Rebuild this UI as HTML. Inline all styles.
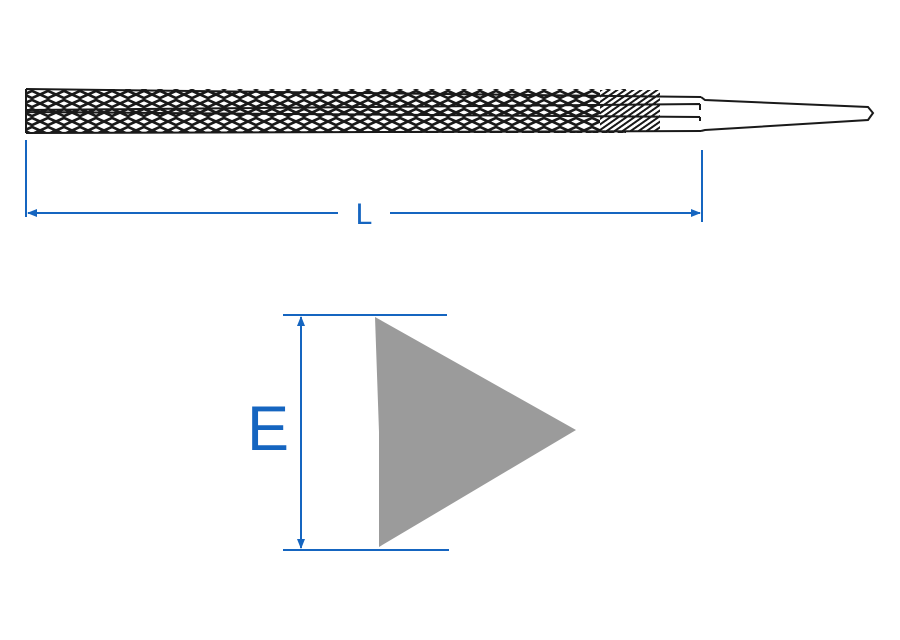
<!DOCTYPE html>
<html><head><meta charset="utf-8"><style>
html,body{margin:0;padding:0;background:#fff;}
svg{display:block;}
</style></head><body>
<svg width="900" height="640" viewBox="0 0 900 640" xmlns="http://www.w3.org/2000/svg">
<defs>
<pattern id="hatch" width="16" height="9" patternUnits="userSpaceOnUse">
<rect width="16" height="9" fill="#fff"/>
<path d="M-2,0 L18,9 M-2,-9 L18,0 M-2,9 L18,18" stroke="#1a1a1a" stroke-width="2.6"/>
<path d="M-2,9 L18,0 M-2,18 L18,9 M-2,0 L18,-9" stroke="#1a1a1a" stroke-width="2.6"/>
</pattern>
<pattern id="diag" width="8" height="20" patternUnits="userSpaceOnUse" patternTransform="skewX(-55)">
<rect width="8" height="20" fill="#fff"/>
<rect width="3.5" height="20" fill="#1a1a1a"/>
</pattern>
<marker id="ar" markerWidth="10" markerHeight="8" refX="9" refY="4" orient="auto" markerUnits="userSpaceOnUse">
<path d="M0,0 L10,4 L0,8 z" fill="#1565c0"/>
</marker>
<marker id="al" markerWidth="10" markerHeight="8" refX="1" refY="4" orient="auto" markerUnits="userSpaceOnUse">
<path d="M10,0 L0,4 L10,8 z" fill="#1565c0"/>
</marker>
</defs>
<rect x="26" y="89" width="600" height="44" fill="url(#hatch)"/>
<rect x="600" y="90" width="60" height="42" fill="url(#diag)"/>
<path d="M660,90 L701,97 L701,109 L660,111 Z M660,132 L701,131 L701,117 L660,113 Z" fill="#fff"/>
<path d="M26,89 L701,97 M26,133 L701,131 M26,89 L26,133 M26,112 L700,117 M26,110 L700,104 M700,104 L700,110 M700,117 L700,121" stroke="#1a1a1a" stroke-width="2" fill="none"/>
<path d="M701,97 L705,100 L868,107 L873,113 L868,120 L705,130 L701,131" stroke="#1a1a1a" stroke-width="2" fill="none"/>
<g stroke="#1565c0" stroke-width="2" fill="none">
<line x1="26" y1="140" x2="26" y2="217"/>
<line x1="702" y1="150" x2="702" y2="222"/>
<line x1="28" y1="213" x2="338" y2="213" marker-start="url(#al)"/>
<line x1="390" y1="213" x2="700" y2="213" marker-end="url(#ar)"/>
</g>
<text x="364" y="224" font-family="Liberation Sans, sans-serif" font-size="30" fill="#1565c0" text-anchor="middle">L</text>
<polygon points="375,317 576,430 379,547 379,432" fill="#9b9b9b"/>
<g stroke="#1565c0" stroke-width="2" fill="none">
<line x1="283" y1="315" x2="447" y2="315"/>
<line x1="283" y1="550" x2="449" y2="550"/>
<line x1="301" y1="317" x2="301" y2="548" marker-start="url(#al)" marker-end="url(#ar)"/>
</g>
<text x="268" y="450" font-family="Liberation Sans, sans-serif" font-size="63" fill="#1565c0" text-anchor="middle">E</text>
</svg>
</body></html>
